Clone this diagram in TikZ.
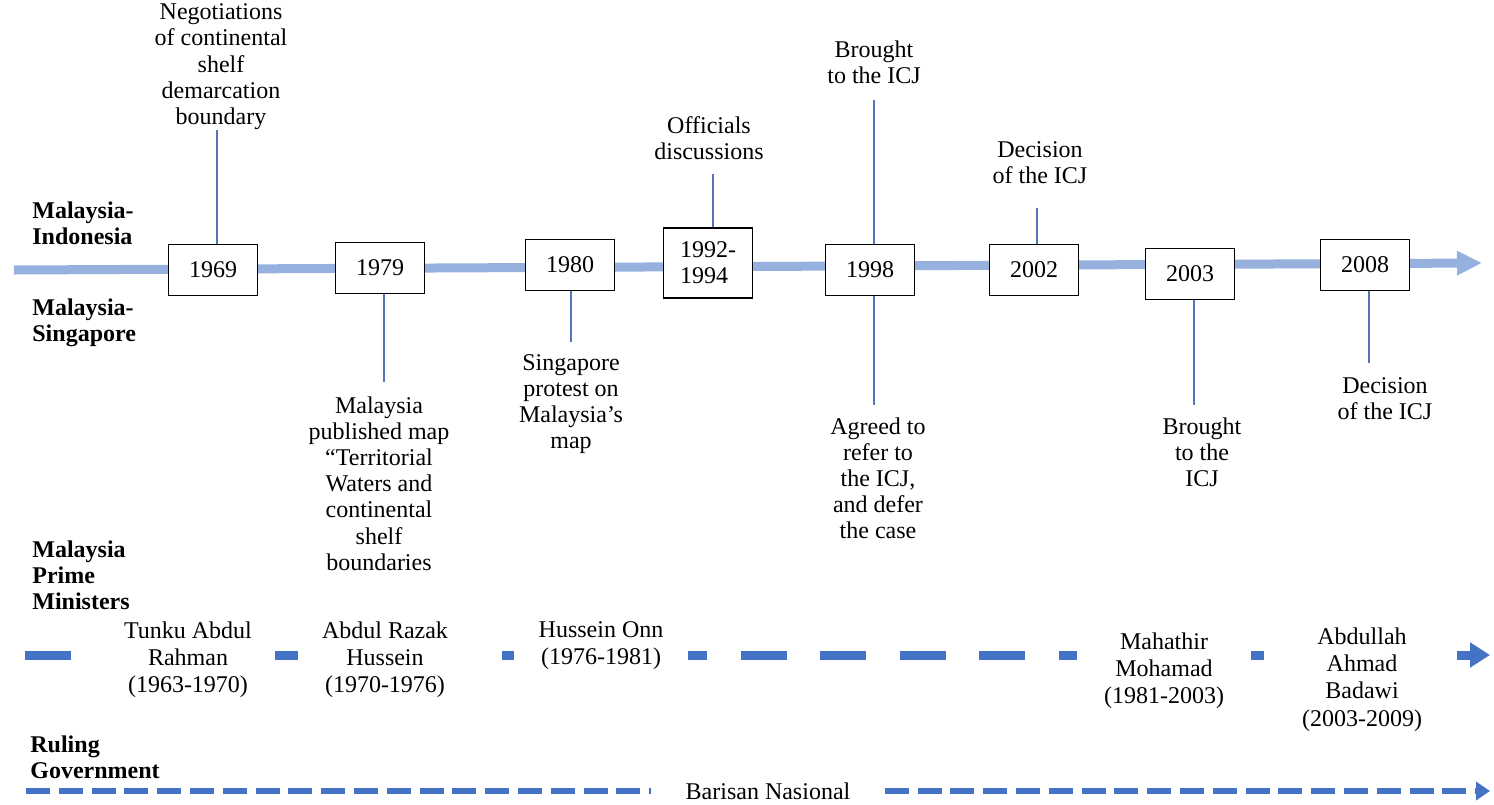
\documentclass[tikz,border=0pt]{standalone}
\usepackage{fontspec}
\setmainfont{Liberation Serif}
\usetikzlibrary{positioning,arrows.meta,backgrounds}

\definecolor{axisblue}{RGB}{150,177,222}
\definecolor{tickblue}{RGB}{84,118,182}
\definecolor{pmblue}{RGB}{68,114,196}

\begin{document}
\begin{tikzpicture}[x=0.5pt, y=-0.5pt,
    txt/.style={font=\fontsize{12}{13.1}\selectfont, align=center, inner sep=0pt},
    side/.style={font=\fontsize{12}{13.1}\selectfont\bfseries, align=left, inner sep=0pt, anchor=north west},
    yearbox/.style={draw, fill=white, line width=0.7pt, minimum width=44.5pt, minimum height=25.5pt, inner sep=1pt, font=\fontsize{12}{13.1}\selectfont},
    tick/.style={draw=tickblue, line width=0.7pt},
    pm/.style={txt, fill=white, minimum width=87pt, anchor=north, font=\fontsize{12}{13.7}\selectfont},
    govline/.style={pmblue, line width=3pt, dash pattern=on 12pt off 4.4pt}]

  \useasboundingbox (0,0) rectangle (1494,804);

  % main time axis
  %                    x,y
  \coordinate (axstart) at (14,270);
  \coordinate (axend)   at (1482,263);
  \draw [axisblue, line width=4.5pt, -{Triangle[length=12.5pt,width=11.5pt]}]
        (axstart) -- (axend);

  % years
  \node [yearbox] (y1969) at (213,270) {1969};
  \node [yearbox] (y1979) at (380,268) {1979};
  \node [yearbox] (y1980) at (570,265) {1980};
  \node [yearbox, minimum height=35pt, align=left] (y1992) at (708,263) {1992-\\1994};
  \node [yearbox] (y1998) at (870,270) {1998};
  \node [yearbox] (y2002) at (1034,270) {2002};
  \node [yearbox] (y2003) at (1190,274) {2003};
  \node [yearbox] (y2008) at (1365,265) {2008};

  % ends of the ticks
  \coordinate (t1969)  at (217,130);
  \coordinate (t1979)  at (384,382);
  \coordinate (t1980)  at (571,342);
  \coordinate (t1992)  at (713,174);
  \coordinate (t1998a) at (874,100);
  \coordinate (t1998b) at (874,405);
  \coordinate (t2002)  at (1037,208);
  \coordinate (t2003)  at (1194,405);
  \coordinate (t2008)  at (1369,363);

  % Malaysia-Indonesia above, Malaysia-Singapore below
  \node [txt, above=0pt of t1969, xshift=2pt] (e1969)
        {Negotiations\\of continental\\shelf\\demarcation\\boundary};
  \node [txt, below=7pt of t1979, xshift=-2.5pt] (e1979)
        {Malaysia\\published map\\“Territorial\\Waters and\\continental\\shelf\\boundaries};
  \node [txt, below=6pt of t1980] (e1980)
        {Singapore\\protest on\\Malaysia’s\\map};
  \node [txt, above=7pt of t1992, xshift=-2pt] (e1992)
        {Officials\\discussions};
  \node [txt, above=8pt of t1998a] (e1998a)
        {Brought\\to the ICJ};
  \node [txt, below=6pt of t1998b, xshift=2pt] (e1998b)
        {Agreed to\\refer to\\the ICJ,\\and defer\\the case};
  \node [txt, above=12pt of t2002, xshift=1.5pt] (e2002)
        {Decision\\of the ICJ};
  \node [txt, below=6pt of t2003, xshift=4pt] (e2003)
        {Brought\\to the\\ICJ};
  \node [txt, below=7pt of t2008, xshift=8pt] (e2008)
        {Decision\\of the ICJ};

  \foreach \yr/\tp in {y1969/t1969, y1992/t1992, y1998/t1998a, y2002/t2002}
    \draw [tick] (\tp |- \yr.north) -- (\tp);
  \foreach \yr/\tp in {y1979/t1979, y1980/t1980, y1998/t1998b, y2003/t2003, y2008/t2008}
    \draw [tick] (\tp |- \yr.south) -- (\tp);

  % row labels
  \node [side] (lbindo) at (32,201) {Malaysia-\\Indonesia};
  \node [side] (lbsing) at (32,298) {Malaysia-\\Singapore};
  \node [side] (lbpm)   at (32,540) {Malaysia\\Prime\\Ministers};
  \node [side] (lbgov)  at (30,735) {Ruling\\Government};

  % prime ministers
  \coordinate (pmstart) at (25,655);
  \coordinate (pmend)   at (1490,655);
  \node [pm] (tunku)    at (188,621)  {Tunku Abdul\\Rahman\\(1963-1970)};
  \node [pm] (razak)    at (385,621)  {Abdul Razak\\Hussein\\(1970-1976)};
  \node [pm] (onn)      at (601,621)  {Hussein Onn\\(1976-1981)};
  \node [pm] (mahathir) at (1164,632) {Mahathir\\Mohamad\\(1981-2003)};
  \node [pm, minimum width=95pt] (badawi) at (1362,627) {Abdullah\\Ahmad\\Badawi\\(2003-2009)};
  \begin{scope}[on background layer]
    \draw [pmblue, line width=4.5pt, dash pattern=on 23pt off 16.75pt,
           -{Triangle[length=10pt,width=12pt]}] (pmstart) -- (pmend);
  \end{scope}

  % ruling government
  \coordinate (gvstart) at (26,791);
  \coordinate (gvend)   at (1490,791);
  \node [txt, inner xsep=17pt] (barisan) at (768,791) {Barisan Nasional};
  \draw [govline] (gvstart) -- (barisan);
  \draw [govline, -{Triangle[length=7pt,width=9pt]}] (barisan) -- (gvend);

\end{tikzpicture}
\end{document}
